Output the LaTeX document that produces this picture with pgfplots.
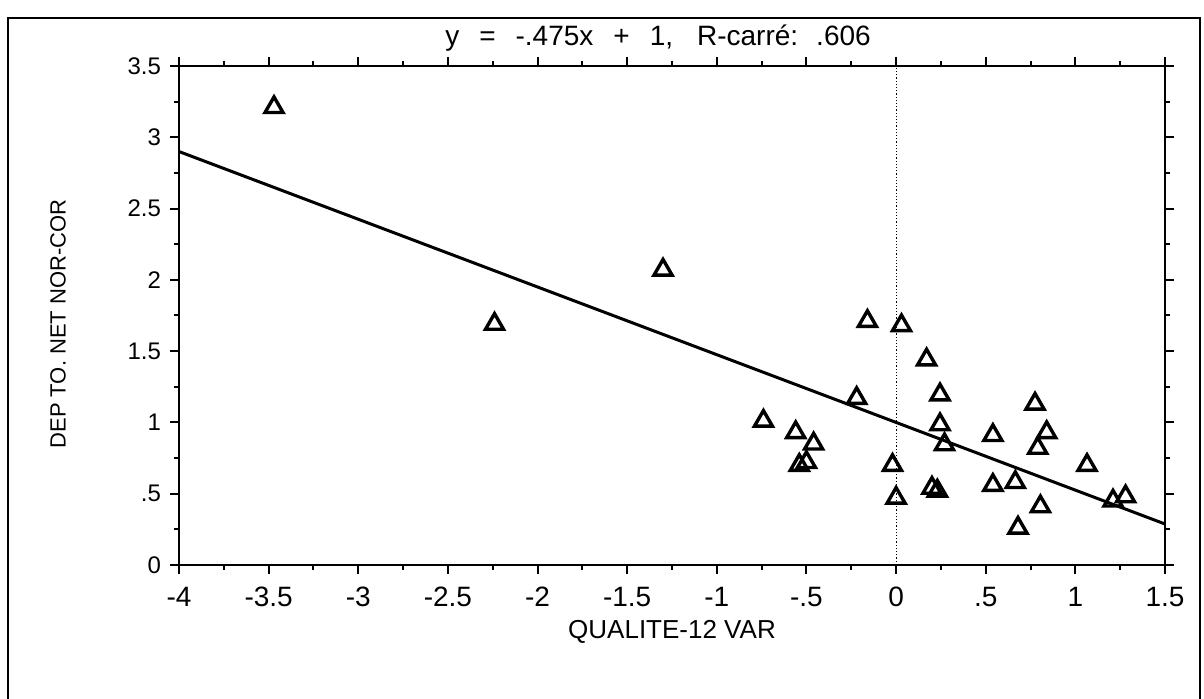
\documentclass[border=0pt]{standalone}
\usepackage{pgfplots}
\pgfplotsset{compat=1.18}
\usepackage{fontspec}
\setmainfont{Liberation Sans}

\begin{document}
\begin{tikzpicture}[x=1pt,y=1pt]
\useasboundingbox (0,0) rectangle (602,349.5);

\begin{axis}[
  at={(89.5pt,67pt)}, anchor=south west,
  scale only axis,
  width=493pt, height=249.5pt,
  xmin=-4, xmax=1.5, ymin=0, ymax=3.5,
  axis line style={line width=1.3pt},
  xtick={-4,-3.5,...,1.5},
  xticklabels={-4,-3.5,-3,-2.5,-2,-1.5,-1,-.5,0,.5,1,1.5},
  ytick={0,0.5,...,3.5},
  yticklabels={0,.5,1,1.5,2,2.5,3,3.5},
  minor x tick num=1, minor y tick num=1,
  tick align=outside,
  xtick pos=both, ytick pos=both,
  major tick length=4.5pt, minor tick length=2.5pt,
  every tick/.style={black, line width=1pt},
  xticklabel style={font=\fontsize{14}{16}\selectfont, yshift=-3pt},
  yticklabel style={font=\fontsize{12}{14}\selectfont, xshift=-1pt},
  xlabel={QUALITE-12 VAR},
  ylabel={DEP TO. NET NOR-COR},
  every axis x label/.style={at={(axis description cs:0.5,0)}, anchor=center,
    yshift=-33.5pt, font=\fontsize{13}{15}\selectfont},
  every axis y label/.style={at={(axis description cs:-0.1227,0.483)}, anchor=center,
    rotate=90, font=\fontsize{11}{13}\selectfont},
  clip=false,
]
% zero reference line
\addplot[black, densely dotted, line width=0.6pt] coordinates {(0,0) (0,3.5)};
% fitted line y = -.475x + 1
\addplot[black, line width=1.5pt] coordinates {(-4,2.9) (1.5,0.2875)};
% observations
\addplot[only marks, mark=triangle, mark size=5.2pt,
  mark options={line width=1.7pt, black, fill=white}]
  coordinates {
  (-3.47,3.21) (-2.24,1.69) (-1.30,2.07)
  (-0.74,1.01) (-0.56,0.93) (-0.46,0.85) (-0.54,0.70) (-0.50,0.72)
  (-0.22,1.17) (-0.16,1.71) (0.03,1.68) (-0.02,0.70) (0.00,0.47)
  (0.17,1.44) (0.245,1.195) (0.245,0.985) (0.27,0.845)
  (0.20,0.54) (0.23,0.52)
  (0.54,0.91) (0.54,0.56) (0.665,0.58) (0.68,0.26)
  (0.775,1.13) (0.79,0.82) (0.84,0.93) (0.805,0.41)
  (1.065,0.70) (1.21,0.45) (1.28,0.48)
  };
\end{axis}

% title
\node[font=\fontsize{14}{16}\selectfont] at (329,330.5)
  {y\hspace{10pt}=\hspace{10pt}-.475x\hspace{10pt}+\hspace{10pt}1,\hspace{12pt}R-carré:\hspace{9pt}.606};

% surrounding frame
\draw[line width=1pt] (4,0) -- (4,340.5) -- (600,340.5) -- (600,0);
\end{tikzpicture}
\end{document}
